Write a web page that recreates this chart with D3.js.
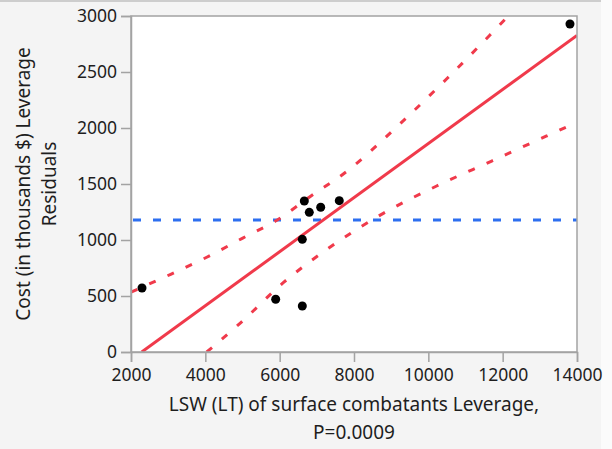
<!DOCTYPE html>
<html>
<head>
<meta charset="utf-8">
<script src="https://cdn.jsdelivr.net/npm/d3@7"></script>
<style>
  body { margin: 0; background: #f5f5f5; }
  svg text { font-family: "Noto Sans", "Open Sans", sans-serif; fill: #1e1e1e; }
</style>
</head>
<body>
<div id="leverage_plot"></div>
<script>
// Leverage residuals
const lswLeverage = [2296, 5893, 6609, 6609, 6663, 6797, 7104, 7604, 13811];
const costLeverage = [571, 471, 411, 1006, 1348, 1247, 1292, 1351, 2929];

// fit line and mean line
const fitX = [2288, 14000];
const fitY = [0, 2826];
const meanCost = 1178;

// confidence curves (dashed red)
const upperX = [2000, 3068, 4037, 4994, 5936, 6843, 7739, 9345, 10510, 11640, 12150];
const upperY = [535, 694, 846, 1015, 1179, 1393, 1596, 2071, 2444, 2824, 3000];
const lowerX = [4037, 4933, 6097, 7400, 8788, 10224, 11704, 13184, 14000];
const lowerY = [0, 256, 619, 946, 1238, 1482, 1705, 1929, 2051];

const xTicks = [2000, 4000, 6000, 8000, 10000, 12000, 14000];
const yTicks = [0, 500, 1000, 1500, 2000, 2500, 3000];

const W = 612, H = 449;
const margin = {top: 16, right: 35, bottom: 97, left: 131},
    width = W - margin.left - margin.right,
    height = H - margin.top - margin.bottom;

const red = "#f03a4b", blue = "#2d6ff0", frame = "#a3a3a3";

const svg = d3
    .select("#leverage_plot")
    .append("svg")
    .attr("width", W)
    .attr("height", H);

// window panel look
svg.append("rect").attr("width", W).attr("height", H).attr("fill", "#fbfbfb");
svg.append("rect").attr("x", 0).attr("y", 0).attr("width", 601).attr("height", H).attr("fill", "#f4f4f4");
svg.append("line").attr("x1", 0).attr("x2", 601).attr("y1", 1).attr("y2", 1)
    .attr("stroke", "#cdcdcd").attr("stroke-width", 2);

const g = svg.append("g").attr("transform", `translate(${margin.left},${margin.top})`);

const x = d3.scaleLinear().domain([2000, 14000]).range([0, width]);
const y = d3.scaleLinear().domain([0, 3000]).range([height, 0]);

g.append("rect")
    .attr("width", width)
    .attr("height", height)
    .attr("fill", "white");

g.append("clipPath").attr("id", "plotclip")
    .append("rect").attr("width", width).attr("height", height);

const marks = g.append("g").attr("clip-path", "url(#plotclip)");

// mean line
marks.append("line")
    .attr("x1", 0).attr("x2", width)
    .attr("y1", y(meanCost)).attr("y2", y(meanCost))
    .attr("stroke", blue)
    .attr("stroke-width", 3)
    .attr("stroke-dasharray", "8 12")
    .attr("stroke-dashoffset", -2);

const curve = d3.line()
    .x((d) => x(d[0]))
    .y((d) => y(d[1]))
    .curve(d3.curveMonotoneX);

marks.append("path")
    .datum(upperX.map((v, i) => [v, upperY[i]]))
    .attr("d", curve)
    .attr("fill", "none")
    .attr("stroke", red)
    .attr("stroke-width", 3)
    .attr("stroke-dasharray", "7 13");

marks.append("path")
    .datum(lowerX.map((v, i) => [v, lowerY[i]]))
    .attr("d", curve)
    .attr("fill", "none")
    .attr("stroke", red)
    .attr("stroke-width", 3)
    .attr("stroke-dasharray", "7 13");

marks.append("path")
    .datum(fitX.map((v, i) => [v, fitY[i]]))
    .attr("d", d3.line().x((d) => x(d[0])).y((d) => y(d[1])))
    .attr("fill", "none")
    .attr("stroke", red)
    .attr("stroke-width", 3);

marks.selectAll(".dot")
    .data(lswLeverage.map((v, i) => ({lsw: v, cost: costLeverage[i]})))
    .join("circle")
    .attr("class", "dot")
    .attr("cx", (d) => x(d.lsw))
    .attr("cy", (d) => y(d.cost))
    .attr("r", 4.5)
    .attr("fill", "black");

// frame
g.append("rect")
    .attr("width", width)
    .attr("height", height)
    .attr("fill", "none")
    .attr("stroke", frame)
    .attr("stroke-width", 1.5);

const xAxis = g.append("g")
    .attr("transform", `translate(0,${height})`)
    .call(d3.axisBottom(x).tickValues(xTicks).tickSize(10).tickPadding(7).tickFormat(d3.format("d")));
const yAxis = g.append("g")
    .call(d3.axisLeft(y).tickValues(yTicks).tickSize(10).tickPadding(4).tickFormat(d3.format("d")));

[xAxis, yAxis].forEach((a) => {
    a.select(".domain").attr("stroke", frame).attr("stroke-width", 1.5);
    a.selectAll(".tick line").attr("stroke", frame).attr("stroke-width", 1.5);
    a.selectAll(".tick text")
        .style("font-size", "17.5px")
        .attr("fill", "#1e1e1e")
        .style("font-family", "'Noto Sans', sans-serif");
});

// axis titles
const xTitle = svg.append("text")
    .attr("text-anchor", "middle")
    .style("font-size", "19px");
xTitle.append("tspan").attr("x", margin.left + width / 2).attr("y", 411)
    .text("LSW (LT) of surface combatants Leverage,");
xTitle.append("tspan").attr("x", margin.left + width / 2).attr("y", 439)
    .text("P=0.0009");

const yTitle = svg.append("text")
    .attr("text-anchor", "middle")
    .attr("transform", "rotate(-90)")
    .style("font-size", "19px");
yTitle.append("tspan").attr("x", -(margin.top + height / 2)).attr("y", 30)
    .text("Cost (in thousands $) Leverage");
yTitle.append("tspan").attr("x", -(margin.top + height / 2)).attr("y", 56)
    .text("Residuals");
</script>
</body>
</html>
